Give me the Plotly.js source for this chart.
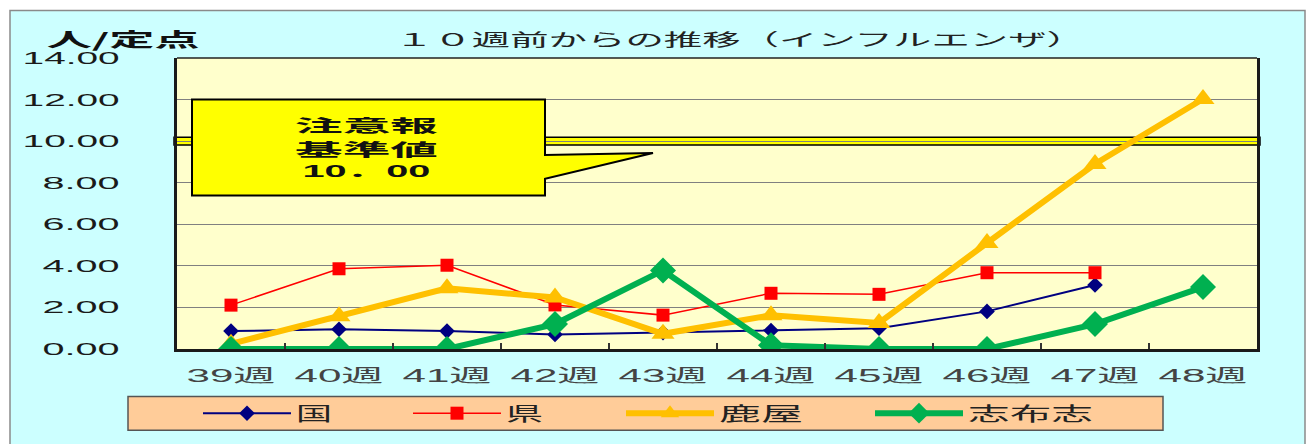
<!DOCTYPE html>
<html><head><meta charset="utf-8">
<script src="https://cdn.plot.ly/plotly-3.0.1.min.js"></script>
<style>html,body{margin:0;padding:0;background:#fff;overflow:hidden}</style>
</head><body><div id="chart" style="width:1314px;height:444px"></div>
<script>
// ---- data ----
const weeks = ['39週','40週','41週','42週','43週','44週','45週','46週','47週','48週'];
const kuni = [0.86, 0.95, 0.86, 0.70, 0.79, 0.89, 1.00, 1.81, 3.08, null];
const ken = [2.11, 3.86, 4.03, 2.12, 1.63, 2.68, 2.63, 3.67, 3.67, null];
const kanoya = [0.25, 1.57, 2.92, 2.48, 0.73, 1.62, 1.25, 5.10, 8.90, 12.03];
const shibushi = [0.00, 0.00, 0.00, 1.20, 3.78, 0.18, 0.00, 0.00, 1.20, 2.98];
const seriesNames = ['国', '県', '鹿屋', '志布志'];
const yTicks = [0, 2, 4, 6, 8, 10, 12, 14];
const yTickLabels = ['0.00', '2.00', '4.00', '6.00', '8.00', '10.00', '12.00', '14.00'];
const threshold = 10;
const titleText = '１０週前からの推移（インフルエンザ）';
const unitText = '人/定点';
const calloutLines = ['注意報', '基準値', '10．00'];

// ---- geometry helpers (pixel -> paper) ----
const W = 1314, H = 444, L = 177, R = 57, T = 58, B = 92;
const PW = W - L - R, PH = H - T - B;
const px = x => (x - L) / PW;
const py = y => (H - B - y) / PH;

const LATIN = 'Liberation Sans, Arial, Noto Sans CJK JP, sans-serif';
const CJK = 'Noto Sans CJK JP, Liberation Sans, sans-serif';

const traces = [
  {x: weeks, y: kuni, name: seriesNames[0], type: 'scatter', mode: 'lines+markers',
   line: {color: '#000080', width: 2}, marker: {symbol: 'diamond', size: 12, color: '#000080'}, legend: 'legend'},
  {x: weeks, y: ken, name: seriesNames[1], type: 'scatter', mode: 'lines+markers',
   line: {color: '#FF0000', width: 1.5}, marker: {symbol: 'square', size: 13, color: '#FF0000'}, legend: 'legend2'},
  {x: weeks, y: kanoya, name: seriesNames[2], type: 'scatter', mode: 'lines+markers',
   line: {color: '#FFC000', width: 6}, marker: {symbol: 'triangle-up', size: 20, color: '#FFC000'}, legend: 'legend3'},
  {x: weeks, y: shibushi, name: seriesNames[3], type: 'scatter', mode: 'lines+markers',
   line: {color: '#00B050', width: 6}, marker: {symbol: 'diamond', size: 20, color: '#00B050'}, legend: 'legend4'}
];

function leg(xpx) {
  return {x: px(xpx), xanchor: 'left', y: py(417), yanchor: 'middle', orientation: 'h',
    bgcolor: 'rgba(0,0,0,0)', borderwidth: 0, itemwidth: 88,
    font: {family: CJK, size: 19, color: '#222'}};
}

const cx = px(366);
const calloutFont = {family: CJK, size: 17, weight: 'bold', color: '#111'};
const layout = {
  width: W, height: H,
  margin: {l: L, r: R, t: T, b: B, pad: 0},
  paper_bgcolor: '#FFFFFF',
  plot_bgcolor: 'rgba(0,0,0,0)',
  showlegend: true,
  title: {text: titleText, font: {family: CJK, size: 17, color: '#222'},
    xref: 'paper', x: px(740), xanchor: 'center', yref: 'container', y: 1 - 40 / H, yanchor: 'middle'},
  xaxis: {type: 'category', range: [-0.5, 9.5], showline: true, linecolor: '#1a1a1a', linewidth: 3,
    ticks: 'inside', tickson: 'boundaries', ticklen: 6, tickwidth: 1.5, tickcolor: '#333',
    showgrid: false, zeroline: false, fixedrange: true, ticklabelstandoff: 8,
    tickfont: {family: LATIN, size: 18, color: '#444'}},
  yaxis: {range: [0, 14], tickvals: yTicks, ticktext: yTickLabels, showline: true, linewidth: 3,
    linecolor: '#1a1a1a', mirror: true, showgrid: true, gridcolor: '#808080', gridwidth: 1,
    zeroline: false, ticks: '', ticklabelstandoff: 51, fixedrange: true,
    tickfont: {family: LATIN, size: 17, color: '#1a1a1a'}},
  legend: leg(198), legend2: leg(408), legend3: leg(621), legend4: leg(870),
  shapes: [
    {type: 'rect', xref: 'paper', yref: 'paper', x0: px(10), x1: px(1305), y0: py(10), y1: py(470),
     fillcolor: '#CCFFFF', line: {color: '#8a8a8a', width: 1.5}, layer: 'below'},
    {type: 'rect', xref: 'paper', yref: 'paper', x0: 0, x1: 1, y0: 0, y1: 1,
     fillcolor: '#FFFFCC', line: {width: 0}, layer: 'below'},
    {type: 'rect', xref: 'paper', yref: 'paper', x0: px(128), x1: px(1163), y0: py(400), y1: py(434),
     fillcolor: '#FFCC99', line: {color: '#555', width: 1.5}, layer: 'below'},
    {type: 'rect', xref: 'paper', yref: 'y', x0: px(174), x1: px(1260), y0: threshold - 0.19, y1: threshold + 0.19,
     fillcolor: '#FFFF00', line: {color: '#000', width: 1.5}, layer: 'between'},
    {type: 'line', xref: 'paper', yref: 'paper', x0: 0, x1: 1, y0: 1, y1: 1,
     line: {color: '#222', width: 1.5}, layer: 'above'},
    {type: 'path', xref: 'paper', yref: 'paper',
     path: 'M' + px(192) + ',' + py(100) + ' L' + px(545) + ',' + py(100) + ' L' + px(545) + ',' + py(156) +
       ' L' + px(653) + ',' + py(154) + ' L' + px(545) + ',' + py(180) + ' L' + px(545) + ',' + py(197) +
       ' L' + px(192) + ',' + py(197) + ' Z',
     fillcolor: '#FFFF00', line: {color: '#000', width: 2}, layer: 'above'}
  ],
  annotations: [
    {text: unitText, xref: 'paper', yref: 'paper', x: px(123), y: py(38), showarrow: false,
     xanchor: 'center', yanchor: 'middle', font: {family: CJK, size: 19, weight: 'bold', color: '#111'}},
    {text: calloutLines[0], xref: 'paper', yref: 'paper', x: cx, y: py(125), showarrow: false,
     xanchor: 'center', yanchor: 'middle', font: calloutFont},
    {text: calloutLines[1], xref: 'paper', yref: 'paper', x: cx, y: py(149), showarrow: false,
     xanchor: 'center', yanchor: 'middle', font: calloutFont},
    {text: calloutLines[2], xref: 'paper', yref: 'paper', x: cx, y: py(173), showarrow: false,
     xanchor: 'center', yanchor: 'middle', font: {family: LATIN, size: 17, weight: 'bold', color: '#111'}}
  ]
};

// horizontal stretch of texts to mimic the wide lettering of the original
const textWidths = {};
textWidths[titleText] = 690;
textWidths[unitText] = 153;
textWidths[calloutLines[0]] = 143;
textWidths[calloutLines[1]] = 143;
textWidths[calloutLines[2]] = 128;
textWidths[seriesNames[0]] = 36;
textWidths[seriesNames[1]] = 37;
textWidths[seriesNames[2]] = 84;
textWidths[seriesNames[3]] = 125;
weeks.forEach(w => { textWidths[w] = 89; });
yTickLabels.forEach(s => { textWidths[s] = s.length >= 5 ? 97 : 77; });

function fit(el, target) {
  if (!el || !target) return;
  el.setAttribute('textLength', target);
  el.setAttribute('lengthAdjust', 'spacingAndGlyphs');
}
const gd = document.getElementById('chart');
function stretchAll() {
  gd.querySelectorAll('text').forEach(t => {
    const k = (t.textContent || '').trim();
    if (textWidths[k]) fit(t, textWidths[k]);
  });
  // let the widened legend labels show in full
  gd.querySelectorAll('[clip-path]').forEach(el => {
    if ((el.getAttribute('clip-path') || '').indexOf('legend') !== -1) el.removeAttribute('clip-path');
  });
}
Plotly.newPlot(gd, traces, layout, {displayModeBar: false, staticPlot: true}).then(function () {
  stretchAll();
  setTimeout(stretchAll, 50);
  setTimeout(stretchAll, 300);
});
</script>
</body></html>
